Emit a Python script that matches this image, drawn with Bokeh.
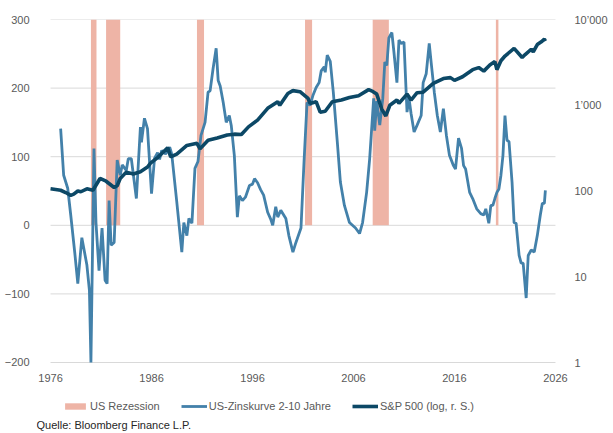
from bokeh.plotting import figure
from bokeh.models import (Range1d, LogScale, LogAxis, FixedTicker, CustomJSTickFormatter,
                          Legend, LegendItem, Label, ColumnDataSource)
from bokeh.core.properties import value
from bokeh.embed import file_html
from bokeh.resources import INLINE

# --- data -------------------------------------------------------------
rec_start = [1980.0, 1981.5, 1990.5, 2001.2, 2007.9, 2020.1]
rec_end = [1980.55, 1982.9, 1991.2, 2001.9, 2009.5, 2020.35]

yc_year = [1977.0, 1977.3, 1977.7, 1978.0, 1978.4, 1978.7, 1979.1, 1979.6, 1979.85, 1980.0,
           1980.3, 1980.5, 1980.8, 1981.1, 1981.4, 1981.6, 1981.8, 1982.0, 1982.3, 1982.6,
           1982.9, 1983.1, 1983.5, 1983.7, 1984.0, 1984.5, 1984.9, 1985.0, 1985.3, 1985.6,
           1986.0, 1986.3, 1986.6, 1986.8, 1987.0, 1987.4, 1987.8, 1988.0, 1988.5, 1989.0,
           1989.2, 1989.5, 1989.7, 1990.0, 1990.3, 1990.6, 1990.9, 1991.3, 1991.6, 1991.8,
           1992.1, 1992.4, 1992.6, 1992.8, 1993.1, 1993.4, 1993.7, 1993.9, 1994.2, 1994.5,
           1994.7, 1995.0, 1995.3, 1995.7, 1996.0, 1996.2, 1996.5, 1996.8, 1997.1, 1997.5,
           1997.8, 1998.0, 1998.3, 1998.5, 1998.8, 1999.3, 1999.6, 2000.0, 2000.3, 2000.8,
           2001.1, 2001.4, 2001.7, 2002.0, 2002.3, 2002.6, 2002.8, 2003.1, 2003.2, 2003.4,
           2003.7, 2004.0, 2004.4, 2004.7, 2005.1, 2005.6, 2005.9, 2006.2, 2006.6, 2006.9,
           2007.0, 2007.3, 2007.6, 2008.0, 2008.1, 2008.3, 2008.6, 2008.9, 2009.1, 2009.3,
           2009.5, 2009.8, 2010.0, 2010.3, 2010.5, 2010.7, 2011.0, 2011.3, 2011.5, 2011.7,
           2012.0, 2012.3, 2012.7, 2012.9, 2013.2, 2013.5, 2013.7, 2014.0, 2014.3, 2014.6,
           2014.9, 2015.2, 2015.5, 2015.9, 2016.1, 2016.4, 2016.7, 2016.9, 2017.1, 2017.5,
           2017.8, 2018.2, 2018.6, 2018.9, 2019.1, 2019.4, 2019.6, 2019.8, 2020.0, 2020.2,
           2020.4, 2020.6, 2020.8, 2021.0, 2021.2, 2021.4, 2021.7, 2021.9, 2022.1, 2022.4,
           2022.6, 2022.8, 2023.1, 2023.3, 2023.6, 2023.9, 2024.2, 2024.5, 2024.7, 2024.9,
           2025.0]
yc_bp = [141, 73, 54, 15, -40, -85, -18, -58, -95, -200,
         112, 4, -66, -4, -80, -85, 36, -29, -25, 95,
         73, 88, 80, 97, 97, 39, 143, 121, 156, 141,
         46, 98, 106, 96, 109, 104, 114, 104, 34, -39,
         4, -15, 10, 3, 83, 93, 131, 150, 194, 196,
         229, 258, 211, 203, 179, 150, 160, 145, 102, 12,
         43, 36, 41, 58, 60, 68, 62, 52, 44, 19,
         9, 0, 27, 12, 22, 10, -15, -39, -25, -4,
         92, 179, 175, 190, 201, 208, 225, 231, 223, 248,
         239, 194, 121, 63, 29, 4, 0, -4, -12, 4,
         15, 48, 97, 185, 138, 181, 146, 185, 238, 233,
         273, 281, 253, 208, 270, 265, 267, 165, 185, 163,
         136, 146, 160, 208, 221, 265, 236, 194, 160, 136,
         170, 131, 102, 87, 82, 127, 112, 87, 82, 48,
         39, 24, 17, 15, 24, 3, 29, 29, 39, 48,
         53, 73, 102, 160, 124, 122, 63, 4, 3, -44,
         -55, -55, -106, -44, -36, -39, -15, 15, 32, 32,
         51]

sp_year = [1976.0, 1976.5, 1977.0, 1977.5, 1978.0, 1978.3, 1978.7, 1979.0, 1979.6, 1980.2,
           1980.9, 1981.5, 1982.3, 1982.6, 1982.9, 1983.5, 1984.2, 1984.9, 1985.6, 1985.9,
           1986.6, 1987.6, 1987.9, 1988.5, 1989.5, 1990.5, 1990.8, 1991.6, 1992.5, 1993.5,
           1994.2, 1994.9, 1995.6, 1996.5, 1997.5, 1998.5, 1998.7, 1999.5, 2000.0, 2000.7,
           2001.5, 2001.7, 2002.3, 2002.7, 2003.2, 2003.9, 2004.8, 2005.6, 2006.5, 2007.5,
           2007.9, 2008.3, 2008.8, 2009.2, 2009.6, 2010.3, 2010.5, 2011.3, 2011.7, 2012.3,
           2012.9, 2013.9, 2014.9, 2015.6, 2016.0, 2016.8, 2017.8, 2018.4, 2018.9, 2019.5,
           2020.0, 2020.2, 2020.6, 2021.0, 2021.9, 2022.7, 2023.0, 2023.6, 2023.8, 2024.2,
           2024.6, 2024.9, 2025.0]
sp_level = [106, 104, 102, 96, 89, 92, 100, 98, 106, 102,
            140, 130, 110, 115, 140, 166, 158, 168, 190, 211,
            245, 320, 250, 270, 340, 360, 310, 390, 415, 450,
            460, 455, 560, 670, 920, 1100, 1000, 1370, 1480, 1440,
            1200, 1050, 1100, 830, 850, 1100, 1150, 1230, 1290, 1520,
            1450, 1350, 900, 750, 1000, 1150, 1050, 1350, 1150, 1400,
            1420, 1800, 2050, 2100, 1950, 2150, 2600, 2750, 2500, 2950,
            3230, 2600, 3300, 3750, 4600, 3600, 3900, 4500, 4200, 5100,
            5500, 5900, 5600]

left_ticks = [-200, -100, 0, 100, 200, 300]
right_ticks = [1, 10, 100, 1000, 10000]
x_ticks = [1976, 1986, 1996, 2006, 2016, 2026]

# --- figure -----------------------------------------------------------
FONT = "Liberation Sans"
GREY = "#595959"

# the frame reaches to the bottom of the page so that the legend and the
# source line below the chart lie inside it (annotations are clipped to it)
p = figure(width=613, height=433,
           x_range=Range1d(1974.61, 2027.29), y_range=Range1d(-303.5, 300),
           x_axis_location=None, output_backend="svg", toolbar_location=None,
           min_border_left=36, min_border_right=45, min_border_top=19, min_border_bottom=0)
p.outline_line_color = None
p.background_fill_color = "white"
p.border_fill_color = "white"
p.xgrid.visible = False
p.ygrid.visible = False

p.extra_y_ranges = {"sp": Range1d(0.1486, 10000)}
p.extra_y_scales = {"sp": LogScale()}

# horizontal grid lines at the left-axis ticks, between first and last year tick
p.segment(x0=x_ticks[0], x1=x_ticks[-1], y0=left_ticks, y1=left_ticks,
          line_color="#D9D9D9", line_width=1)

rec_src = ColumnDataSource(dict(left=rec_start, right=rec_end))
r_rec = p.quad(left="left", right="right", bottom=0, top=300, source=rec_src,
               fill_color="#EEB4A6", line_color=None)

yc_src = ColumnDataSource(dict(x=yc_year, y=yc_bp))
r_yc = p.line("x", "y", source=yc_src, line_color="#4381AA", line_width=2.8)

sp_src = ColumnDataSource(dict(x=sp_year, y=sp_level))
r_sp = p.line("x", "y", source=sp_src, line_color="#0C4866", line_width=3.6, y_range_name="sp")

# year labels (x axis) just under the -200 line
label_y = left_ticks[0] - 22
p.text(x=x_ticks, y=[label_y] * len(x_ticks), text=[str(t) for t in x_ticks],
       text_font=value(FONT), text_font_size="11px", text_color=GREY,
       text_align="center", text_baseline="middle")

# left axis
ax = p.yaxis[0]
ax.ticker = FixedTicker(ticks=left_ticks)
ax.axis_line_color = None
ax.major_tick_line_color = None
ax.minor_tick_line_color = None
ax.major_label_text_font = FONT
ax.major_label_text_font_size = "11px"
ax.major_label_text_color = GREY
ax.major_label_standoff = 1

# right log axis
right = LogAxis(y_range_name="sp", ticker=FixedTicker(ticks=right_ticks))
right.formatter = CustomJSTickFormatter(
    code="return Math.round(tick).toString().replace(/\\B(?=(\\d{3})+(?!\\d))/g, '\u2019');")
right.axis_line_color = None
right.major_tick_line_color = None
right.minor_tick_line_color = None
right.major_label_text_font = FONT
right.major_label_text_font_size = "11px"
right.major_label_text_color = GREY
right.major_label_standoff = 0
p.add_layout(right, "right")

legend = Legend(items=[LegendItem(label="US Rezession", renderers=[r_rec]),
                       LegendItem(label="US-Zinskurve 2-10 Jahre", renderers=[r_yc]),
                       LegendItem(label="S&P 500 (log, r. S.)", renderers=[r_sp])],
                orientation="horizontal", location=(26, 21),
                glyph_width=26, glyph_height=8, label_standoff=2, spacing=21,
                padding=0, margin=0, border_line_color=None, background_fill_alpha=0,
                label_text_font=FONT, label_text_font_size="11px", label_text_color=GREY)
p.add_layout(legend)

src_label = Label(x=0, y=3, x_units="screen", y_units="screen",
                  text="Quelle: Bloomberg Finance L.P.", text_font=FONT,
                  text_font_size="11px", text_color="#262626", text_baseline="bottom")
p.add_layout(src_label)

open("out.html", "w").write(file_html(p, INLINE))
